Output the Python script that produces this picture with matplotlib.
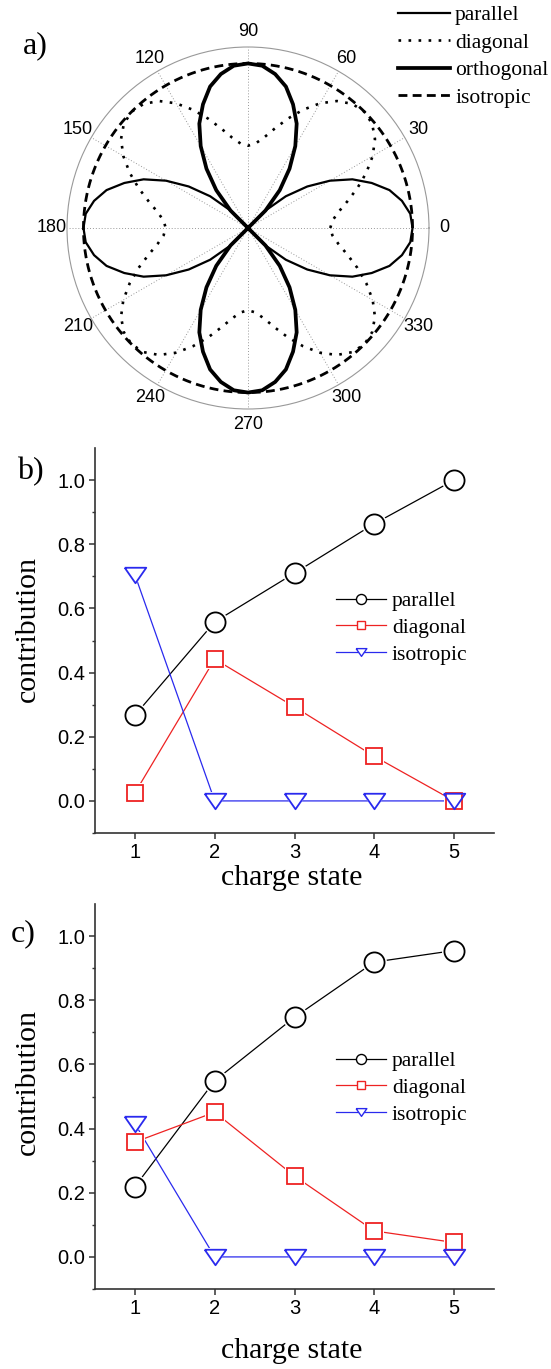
import numpy as np
import matplotlib
matplotlib.use("Agg")
import matplotlib.pyplot as plt
from matplotlib.lines import Line2D

# a) angular shapes, read every 5 degrees over one lobe / one quadrant
lobe_ang = [0, 5, 10, 15, 20, 25, 30, 35, 40, 45, 50]
lobe_r = [1.0, 0.99, 0.95, 0.89, 0.80, 0.70, 0.575, 0.44, 0.30, 0.15, 0.0]
diag_ang = [0, 5, 10, 15, 20, 25, 30, 35, 40, 45]
diag_r = [0.5, 0.515, 0.558, 0.625, 0.707, 0.793, 0.875, 0.942, 0.985, 1.0]
iso_r = 1.0
polar_ticks = [0, 30, 60, 90, 120, 150, 180, 210, 240, 270, 300, 330]
polar_names = ["parallel", "diagonal", "orthogonal", "isotropic"]

# b) and c) contributions vs charge state
charge = [1, 2, 3, 4, 5]
b_parallel = [0.267, 0.558, 0.71, 0.864, 1.0]
b_diagonal = [0.025, 0.442, 0.293, 0.139, 0.0]
b_isotropic = [0.705, 0.0, 0.0, 0.0, 0.0]
c_parallel = [0.219, 0.549, 0.747, 0.919, 0.955]
c_diagonal = [0.358, 0.451, 0.252, 0.081, 0.045]
c_isotropic = [0.415, 0.0, 0.0, 0.0, 0.0]
series_names = ["parallel", "diagonal", "isotropic"]

W, H = 551, 1369
fig = plt.figure(figsize=(W / 100, H / 100), dpi=100)

SERIF = "Liberation Serif"
SANS = "Liberation Sans"

DOT = (0, (1.0, 2.8))
DASH = (0, (3.2, 1.9))


def box(x0, y0, x1, y1):
    # pixel box (top-left origin) -> figure fractions
    return [x0 / W, 1 - y1 / H, (x1 - x0) / W, (y1 - y0) / H]


def fx(x, y):
    return x / W, 1 - y / H


# ---------- a) polar ----------
ax = fig.add_axes(box(67, 47, 429, 409), projection="polar")
la = np.array(lobe_ang, dtype=float)
lr = np.array(lobe_r)
one_ang = np.concatenate([-la[::-1], la[1:]])
one_r = np.concatenate([lr[::-1], lr[1:]])

for off, lw in [(0, 1.6), (90, 2.7)]:
    for extra in (0, 180):
        ax.plot(np.radians(one_ang + off + extra), one_r, color="black", lw=lw,
                solid_joinstyle="round", zorder=3)

da = np.array(diag_ang, dtype=float)
dr = np.array(diag_r)
q_ang = np.concatenate([da, 90 - da[::-1][1:]])
q_r = np.concatenate([dr, dr[::-1][1:]])
full_ang = np.concatenate([q_ang + 90 * k for k in range(4)] + [[360]])
full_r = np.concatenate([q_r for k in range(4)] + [[q_r[0]]])
ax.plot(np.radians(full_ang), full_r, color="black", lw=1.9,
        linestyle=DOT, dash_capstyle="butt", zorder=3)

circ = np.linspace(0, 2 * np.pi, 361)
ax.plot(circ, np.full_like(circ, iso_r), color="black", lw=2.0,
        linestyle=DASH, zorder=3)

ax.set_ylim(0, 1.1)
ax.set_yticks([])
ax.set_thetagrids(polar_ticks, [str(t) for t in polar_ticks],
                  fontsize=13, family=SANS)
ax.tick_params(axis="x", length=0, pad=4)
ax.xaxis.grid(True, color="#999999", lw=0.7, linestyle=(0, (1, 2)))
ax.spines["polar"].set_color("#999999")
ax.spines["polar"].set_linewidth(0.8)

polar_handles = [
    Line2D([], [], color="black", lw=1.6),
    Line2D([], [], color="black", lw=1.9, linestyle=DOT, dash_capstyle="butt"),
    Line2D([], [], color="black", lw=2.7),
    Line2D([], [], color="black", lw=2.0, linestyle=DASH),
]
fig.legend(polar_handles, polar_names, loc="upper left",
           bbox_to_anchor=fx(398, 5), frameon=False, borderpad=0,
           borderaxespad=0, handlelength=2.4, handletextpad=0.25,
           labelspacing=0.35, prop={"family": SERIF, "size": 15.5})
fig.text(*fx(35, 46), "a)", family=SERIF, fontsize=23, ha="center", va="center")


# ---------- b) and c) ----------
def add_panel(top, par, dia, iso, tag, tag_xy, leg_y, ylab_y, xlab_y):
    rect = box(95, top, 494, top + 385)
    ax = fig.add_axes(rect)
    specs = [
        (par, "black", "o", 14.5),
        (dia, "#ee2222", "s", 11.0),
        (iso, "#2a2aee", [(-1, 0.72), (1, 0.72), (0, -0.72), (-1, 0.72)], 15.5),
    ]
    for vals, col, mk, ms in specs:
        ax.plot(charge, vals, color=col, lw=0.9, zorder=2)
    for vals, col, mk, ms in specs:
        ax.plot(charge, vals, ls="none", marker=mk, ms=ms + 3.5, mfc="white",
                mec="white", mew=0, zorder=3)
    handles = []
    for vals, col, mk, ms in specs:
        ax.plot(charge, vals, ls="none", marker=mk, ms=ms, mfc="none",
                mec=col, mew=1.3, zorder=4)
        handles.append(Line2D([], [], color=col, lw=0.9, marker=mk, ms=ms * 0.5,
                              mfc="white", mec=col, mew=1.0))
    ax.set_xlim(0.5, 5.5)
    ax.set_ylim(-0.1, 1.1)
    ax.set_xticks(charge)
    ax.set_yticks([0.0, 0.2, 0.4, 0.6, 0.8, 1.0])
    ax.set_yticks([-0.1, 0.1, 0.3, 0.5, 0.7, 0.9], minor=True)
    ax.set_yticklabels(["0.0", "0.2", "0.4", "0.6", "0.8", "1.0"])
    for s in ("top", "right"):
        ax.spines[s].set_visible(False)
    for s in ("left", "bottom"):
        ax.spines[s].set_color("#333333")
        ax.spines[s].set_linewidth(1.2)
    ax.tick_params(direction="out", length=4, width=1.1, color="#333333",
                   labelsize=14.5, pad=3)
    ax.tick_params(axis="y", which="minor", direction="out", length=2.5,
                   width=1.0, color="#333333")
    for lab in ax.get_xticklabels() + ax.get_yticklabels():
        lab.set_family(SANS)
    ax.legend(handles, series_names, loc="upper left",
              bbox_to_anchor=fx(336, leg_y - 7), bbox_transform=fig.transFigure,
              frameon=False, borderpad=0, borderaxespad=0, handlelength=2.3,
              handletextpad=0.3, labelspacing=0.32,
              prop={"family": SERIF, "size": 15.5})
    fig.text(*fx(*tag_xy), tag, family=SERIF, fontsize=23, ha="center", va="center")
    fig.text(*fx(28, ylab_y), "contribution", family=SERIF, fontsize=21.5,
             rotation=90, ha="center", va="center")
    fig.text(*fx(292, xlab_y), "charge state", family=SERIF, fontsize=21.5,
             ha="center", va="center")
    return ax


add_panel(448, b_parallel, b_diagonal, b_isotropic, "b)", (30, 472), 598, 629, 878)
add_panel(904, c_parallel, c_diagonal, c_isotropic, "c)", (23, 934), 1058, 1082, 1351)

fig.savefig("out.png", dpi=100)
